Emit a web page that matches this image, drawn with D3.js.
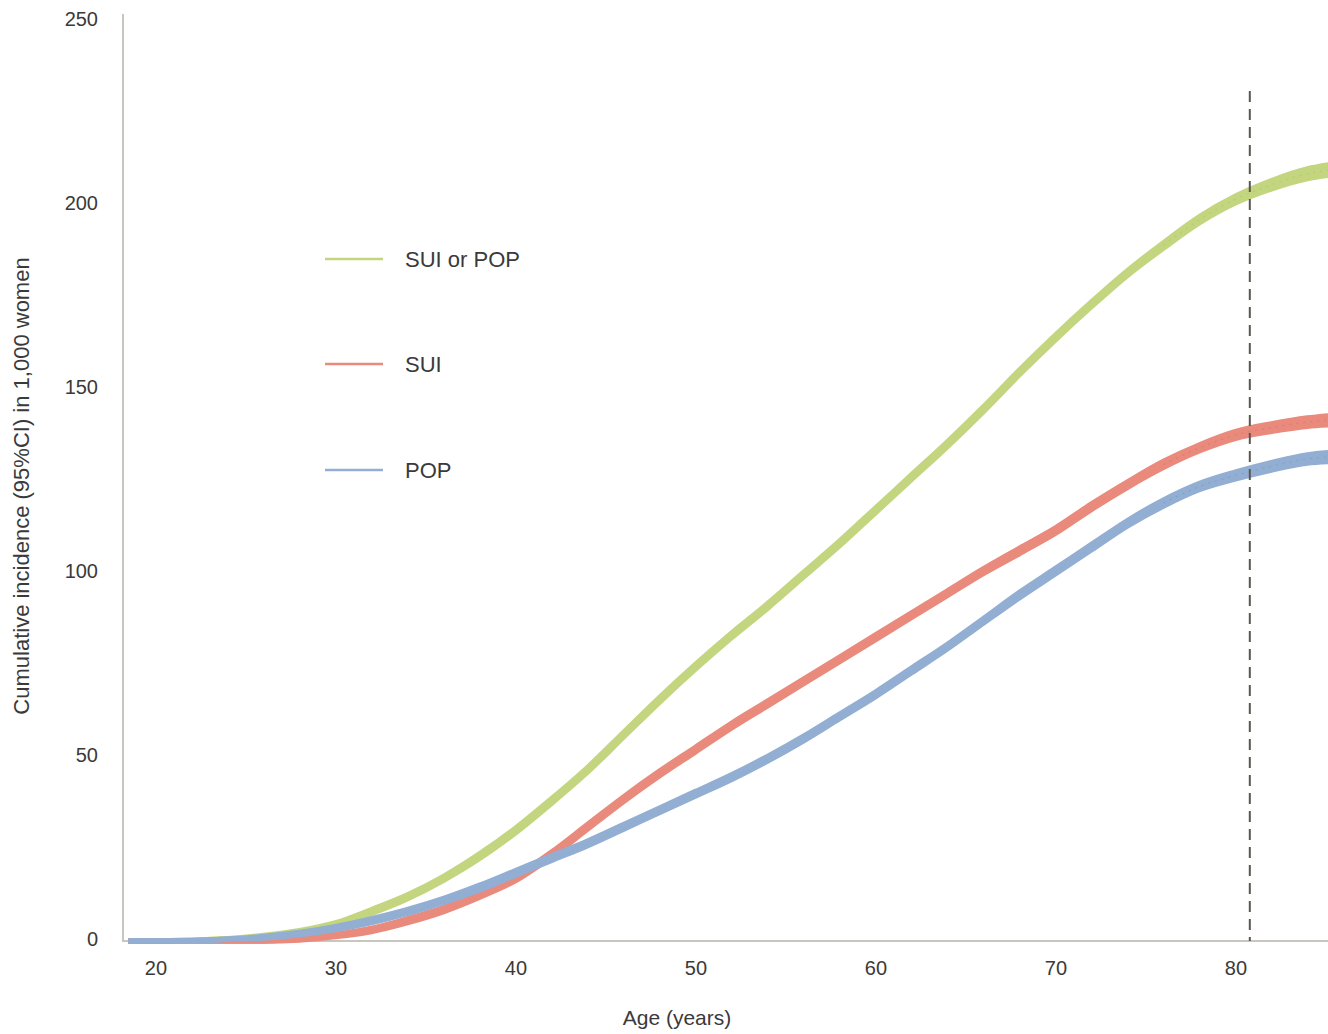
<!DOCTYPE html>
<html>
<head>
<meta charset="utf-8">
<script src="https://cdn.jsdelivr.net/npm/d3@7"></script>
<style>
  html, body { margin: 0; padding: 0; background: #fff; }
  svg { display: block; }
  text { font-family: "Liberation Sans", Arial, Helvetica, sans-serif; }
</style>
</head>
<body>
<svg id="chart" width="1328" height="1034"></svg>
<script>
// ---- data ----
const ages = [18.5,20,22,24,26,28,30,32,34,36,38,40,42,44,46,48,50,52,54,56,58,60,62,64,66,68,70,72,74,76,78,80,82,84,85.2];
const suiOrPop = [0,0,0.2,0.6,1.3,2.5,4.5,8,12,17,23,30,38,46.5,56,65.5,74.5,83,91,99.5,108,117,126,135,144.5,154.5,164,173,181.5,189,196,201.5,205.5,208.5,209.5];
const sui      = [0,0,0,0,0,0.5,1.5,3,5.5,8.5,12.5,17,23.5,31,38.5,45.5,52,58.5,64.5,70.5,76.5,82.5,88.5,94.5,100.5,106,111.5,118,124,129.5,134,137.5,139.5,141,141.5];
const pop      = [0,0,0.1,0.5,1,2,3.5,5.5,8,11,14.5,18.5,22.5,26.5,31,35.5,40,44.5,49.5,55,61,67,73.5,80,87,94,100.5,107,113.5,119,123.5,126.5,129,131,131.5];
// half-width of the 95% CI band
const suiOrPopCI = [0,0,0,0,0.2,0.3,0.4,0.5,0.5,0.5,0.6,0.6,0.6,0.6,0.6,0.6,0.6,0.6,0.6,0.6,0.6,0.6,0.6,0.6,0.6,0.6,0.6,0.6,0.6,0.7,0.8,0.9,1.1,1.3,1.4];
const suiCI      = [0,0,0,0,0,0.2,0.3,0.4,0.5,0.5,0.6,0.6,0.6,0.6,0.6,0.6,0.6,0.6,0.6,0.6,0.6,0.6,0.6,0.6,0.6,0.7,0.7,0.7,0.7,0.8,0.8,0.9,1.0,1.1,1.2];
const popCI      = [0,0,0,0,0.2,0.3,0.4,0.5,0.5,0.5,0.6,0.6,0.6,0.6,0.6,0.6,0.6,0.6,0.6,0.6,0.6,0.6,0.6,0.6,0.6,0.7,0.7,0.7,0.7,0.8,0.8,0.9,1.0,1.1,1.2];
const seriesNames = ["SUI or POP", "SUI", "POP"];
const seriesColors = ["#c3d67f", "#e98a7c", "#92aed2"];
const seriesDark = ["#b0c86a", "#d9786b", "#7f9cc4"];
const xTicks = [20,30,40,50,60,70,80];
const yTicks = [0,50,100,150,200,250];
const refAge = 80.8;
const refTop = 231;

// ---- scales ----
const svg = d3.select("#chart");
const x = d3.scaleLinear().domain([18.2, 85.2]).range([123, 1329]);
const y = d3.scaleLinear().domain([0, 250]).range([941, 21]);

// axes lines
svg.append("line").attr("x1", 123).attr("x2", 123).attr("y1", 14).attr("y2", 941)
  .attr("stroke", "#c9c5bf").attr("stroke-width", 2);
svg.append("line").attr("x1", 122).attr("x2", 1328).attr("y1", 941).attr("y2", 941)
  .attr("stroke", "#c9c5bf").attr("stroke-width", 2);

// y axis via d3
const yAxis = d3.axisLeft(y).tickValues(yTicks).tickSize(0).tickPadding(0);
const gy = svg.append("g").attr("transform", "translate(98,0)").call(yAxis);
gy.select(".domain").remove();
gy.selectAll("text").attr("font-size", 20).attr("fill", "#3a3a3a")
  .attr("font-family", "'Liberation Sans', Arial, sans-serif").attr("dy", "0.2em");

// x axis via d3
const xAxis = d3.axisBottom(x).tickValues(xTicks).tickSize(0).tickPadding(0);
const gx = svg.append("g").attr("transform", "translate(0,961)").call(xAxis);
gx.select(".domain").remove();
gx.selectAll("text").attr("font-size", 20).attr("fill", "#3a3a3a")
  .attr("font-family", "'Liberation Sans', Arial, sans-serif");

// axis titles
svg.append("text").attr("x", 677).attr("y", 1025).attr("text-anchor", "middle")
  .attr("font-size", 21).attr("fill", "#3a3a3a").text("Age (years)");
svg.append("text").attr("transform", "translate(29,486) rotate(-90)").attr("text-anchor", "middle")
  .attr("font-size", 22).attr("fill", "#3a3a3a").text("Cumulative incidence (95%CI) in 1,000 women");

// series
const allVals = [suiOrPop, sui, pop];
const allCI = [suiOrPopCI, suiCI, popCI];
const area = d3.area().x(d => x(d.a)).y0(d => y(d.v - d.h)).y1(d => y(d.v + d.h)).curve(d3.curveMonotoneX);
const lineLo = d3.line().x(d => x(d.a)).y(d => y(d.v - d.h)).curve(d3.curveMonotoneX);
const lineHi = d3.line().x(d => x(d.a)).y(d => y(d.v + d.h)).curve(d3.curveMonotoneX);
const lineMid = d3.line().x(d => x(d.a)).y(d => y(d.v)).curve(d3.curveMonotoneX);

allVals.forEach((vals, i) => {
  const pts = ages.map((a, j) => ({ a, v: vals[j], h: allCI[i][j] }));
  const g = svg.append("g");
  g.append("path").attr("d", area(pts)).attr("fill", seriesColors[i]);
  g.append("path").attr("d", lineLo(pts)).attr("fill", "none").attr("stroke", seriesColors[i])
    .attr("stroke-width", 5.5).attr("stroke-linejoin", "round");
  g.append("path").attr("d", lineHi(pts)).attr("fill", "none").attr("stroke", seriesColors[i])
    .attr("stroke-width", 5.5).attr("stroke-linejoin", "round");
  g.append("path").attr("d", lineMid(pts.filter(p => p.a >= 76))).attr("fill", "none").attr("stroke", seriesDark[i])
    .attr("stroke-width", 1.2).attr("stroke-dasharray", "2,5").attr("opacity", 0.7);
});

// reference dashed line
svg.append("line").attr("x1", x(refAge)).attr("x2", x(refAge)).attr("y1", y(refTop)).attr("y2", y(0))
  .attr("stroke", "#5a5651").attr("stroke-width", 2).attr("stroke-dasharray", "11,7");

// legend
const legY = [259, 364, 470];
seriesNames.forEach((name, i) => {
  svg.append("line").attr("x1", 325).attr("x2", 383).attr("y1", legY[i]).attr("y2", legY[i])
    .attr("stroke", seriesColors[i]).attr("stroke-width", 2.5);
  svg.append("text").attr("x", 405).attr("y", legY[i] + 8).attr("font-size", 22).attr("fill", "#3a3a3a").text(name);
});
</script>
</body>
</html>
